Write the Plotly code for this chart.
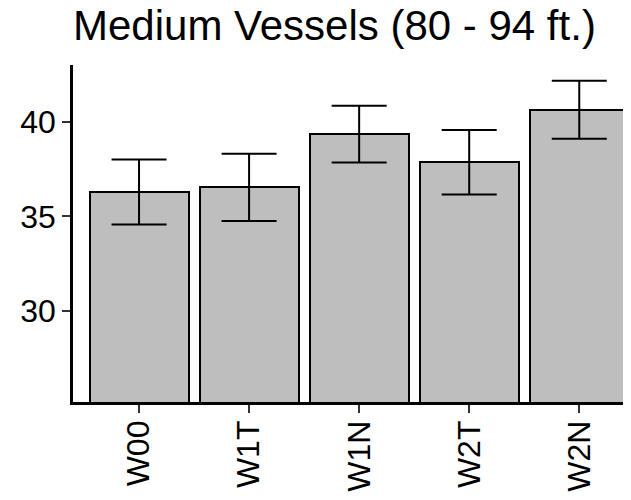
import plotly.graph_objects as go

categories = ["W00", "W1T", "W1N", "W2T", "W2N"]
means = [36.30, 36.55, 39.35, 37.87, 40.64]
err_upper = [38.01, 38.31, 40.85, 39.56, 42.17]
err_lower = [34.57, 34.75, 37.85, 36.16, 39.10]
y_ticks = [30, 35, 40]
title_text = "Medium Vessels (80 - 94 ft.)"

plus = [u - m for u, m in zip(err_upper, means)]
minus = [m - l for m, l in zip(means, err_lower)]

# page body has an 8px default margin; size the figure to fill the rest
W, H = 623, 492

fig = go.Figure()
fig.add_trace(go.Bar(
    x=list(range(len(categories))),
    y=means,
    width=0.9,
    marker=dict(color="#BEBEBE", line=dict(color="black", width=2)),
    error_y=dict(type="data", symmetric=False, array=plus, arrayminus=minus,
                 color="black", thickness=2, width=27.5),
    showlegend=False,
))

fig.update_layout(
    width=W, height=H,
    margin=dict(l=65, r=0, t=57, b=98, autoexpand=False),
    plot_bgcolor="white", paper_bgcolor="white",
    font=dict(family="Liberation Sans, Arial, sans-serif", color="black"),
    title=dict(text=title_text, font=dict(size=42, color="black"),
               xref="container", x=65/W, xanchor="left",
               yref="container", y=1 - 17/H, yanchor="middle"),
    bargap=0,
)
fig.update_xaxes(
    range=[-0.6, 4.47], automargin=False,
    tickmode="array", tickvals=list(range(len(categories))), ticktext=categories,
    tickangle=-90, tickfont=dict(size=32, color="black"),
    ticklabelstandoff=-5,
    showline=True, linecolor="black", linewidth=2.5,
    ticks="outside", ticklen=8, tickwidth=2, tickcolor="#333333",
    showgrid=False, zeroline=False,
)
fig.update_yaxes(
    range=[25.19, 43.0], automargin=False,
    tickmode="array", tickvals=y_ticks, ticktext=[str(t) for t in y_ticks],
    tickfont=dict(size=32, color="black"),
    showline=True, linecolor="black", linewidth=2.5,
    ticks="outside", ticklen=8, tickwidth=2, tickcolor="#333333",
    showgrid=False, zeroline=False,
)

fig.write_html("out.html")
